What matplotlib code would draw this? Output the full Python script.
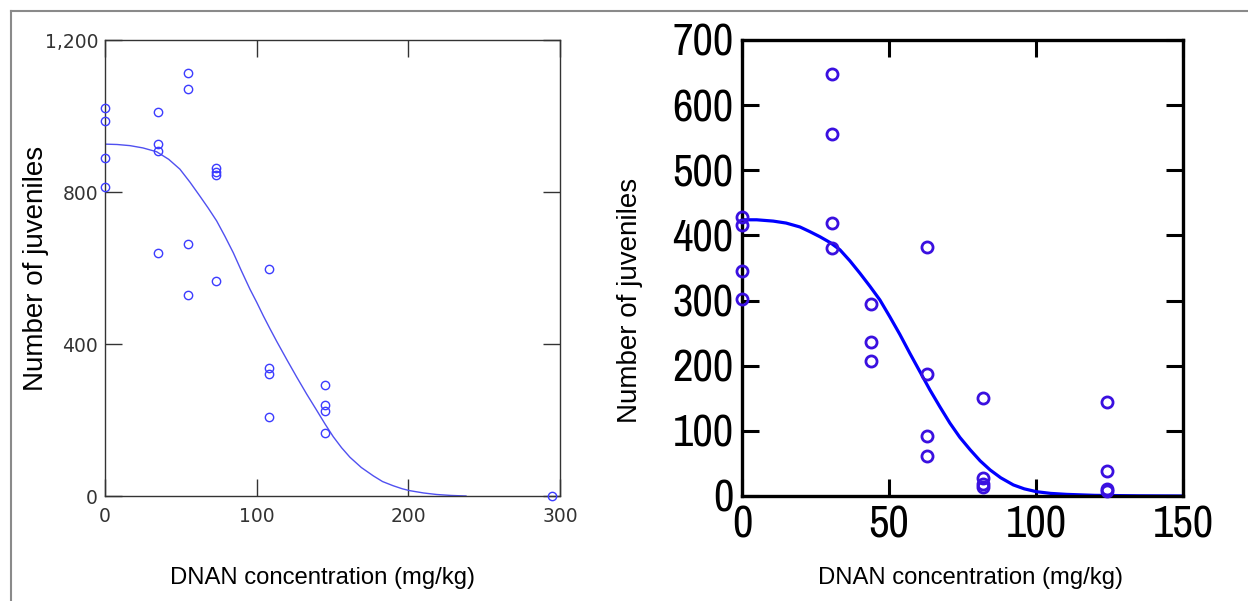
import matplotlib.pyplot as plt
import numpy as np
from matplotlib.lines import Line2D

# left panel: observed counts
xl = [0, 0, 0, 0, 35, 35, 35, 35, 55, 55, 55, 55, 73, 73, 73, 73,
      108, 108, 108, 108, 145, 145, 145, 145, 295]
yl = [1020, 987, 890, 813, 1010, 926, 908, 639, 1113, 1070, 662, 530,
      863, 853, 844, 567, 598, 337, 321, 207, 293, 240, 224, 166, 0]
# left fitted curve
cxl = [0, 8, 16.5, 25, 34, 42, 49.4, 56, 62.6, 68, 73.6, 79, 84.6, 90, 95.6,
       100, 104.4, 108.8, 113.2, 120, 126.4, 133, 139.5, 145, 150.5, 156,
       161.5, 169, 176.9, 183, 190, 196, 201, 210, 218.6, 228, 238]
cyl = [926, 925, 922, 916, 906, 886, 860, 826, 789, 758, 724, 684, 640, 592, 544,
       510, 474, 440, 407, 358, 313, 268, 226, 190, 156, 127,
       102, 75, 53, 38, 27, 19, 14, 8, 4, 1.5, 0]

# right panel: observed counts
xr = [0, 0, 0, 0, 30.5, 30.5, 30.5, 30.5, 44, 44, 44, 63, 63, 63, 63,
      82, 82, 82, 82, 124, 124, 124, 124]
yr = [428, 416, 345, 302, 648, 556, 419, 381, 295, 237, 207, 382, 187, 92, 62,
      151, 28, 18, 14, 144, 38, 11, 8]
# right fitted curve
cxr = [0, 5, 10.6, 15, 19.7, 23, 26.5, 30, 33.3, 36.7, 40.1, 43.5, 46.9, 50.3,
       53.7, 57.1, 60.5, 63.9, 67.3, 70.7, 74.1, 77.6, 81, 84.4, 88, 92.3, 96,
       100.2, 105, 110.4, 120, 135, 150]
cyr = [424, 424, 422, 419, 413, 406, 398, 389, 378, 361, 342, 322, 301, 275,
       248, 219, 191, 163, 137, 112, 90, 71, 54, 40, 28, 17, 11,
       6.6, 4, 2.5, 1, 0.3, 0]

fig = plt.figure(figsize=(12.48, 6.01), dpi=100)
W, H = 1248, 601

# outer grey frame
fig.add_artist(Line2D([11 / W, 1], [1 - 11 / H, 1 - 11 / H], color='#8a8a8a', lw=1.5))
fig.add_artist(Line2D([11 / W, 11 / W], [0, 1 - 11 / H], color='#8a8a8a', lw=1.5))

# ---- left panel ----
ax1 = fig.add_axes([105 / W, 1 - 496 / H, 455 / W, 456 / H])
ax1.plot(cxl, cyl, color='#5050f0', lw=1)
ax1.plot(xl, yl, 'o', mfc='none', mec='#3c3cff', ms=6, mew=1, clip_on=False, zorder=5)
ax1.set_xlim(0, 300)
ax1.set_ylim(0, 1200)
ax1.set_xticks([0, 100, 200, 300])
ax1.set_yticks([0, 400, 800, 1200])
ax1.set_yticklabels(['0', '400', '800', '1,200'])
ax1.tick_params(direction='in', length=12, width=1, color='#333333',
                labelcolor='#333333', labelsize=13.5, top=True, right=True, pad=5)
ax1.tick_params(axis='x', pad=8)
for s in ax1.spines.values():
    s.set_color('#333333')
    s.set_linewidth(1)
fig.text(36 / W, 1 - 268 / H, 'Number of juveniles', rotation=90, ha='center',
         va='center', fontsize=20, family='Liberation Sans')
fig.text(322 / W, 1 - 578 / H, 'DNAN concentration (mg/kg)', ha='center',
         va='center', fontsize=17.2, family='Liberation Sans')

# ---- right panel ----
ax2 = fig.add_axes([742 / W, 1 - 496 / H, 441 / W, 456 / H])
ax2.plot(cxr, cyr, color='#0000ff', lw=2.3)
ax2.plot(xr, yr, 'o', mfc='none', mec='#3a10e0', ms=8, mew=2, clip_on=False, zorder=5)
ax2.set_xlim(0, 150)
ax2.set_ylim(0, 700)
ax2.set_xticks([0, 50, 100, 150])
ax2.set_yticks(range(0, 701, 100))
ax2.tick_params(direction='in', length=12, width=2.2, color='black',
                labelsize=35, top=True, right=True, pad=6)
ax2.tick_params(axis='x', pad=7)
for lab in ax2.get_xticklabels() + ax2.get_yticklabels():
    lab.set_family(['Pragati Narrow', 'Liberation Sans'])
for s in ax2.spines.values():
    s.set_linewidth(2.4)
fig.text(630 / W, 1 - 300 / H, 'Number of juveniles', rotation=90, ha='center',
         va='center', fontsize=20, family='Liberation Sans')
fig.text(970 / W, 1 - 578 / H, 'DNAN concentration (mg/kg)', ha='center',
         va='center', fontsize=17.2, family='Liberation Sans')

fig.savefig('out.png', dpi=100)
